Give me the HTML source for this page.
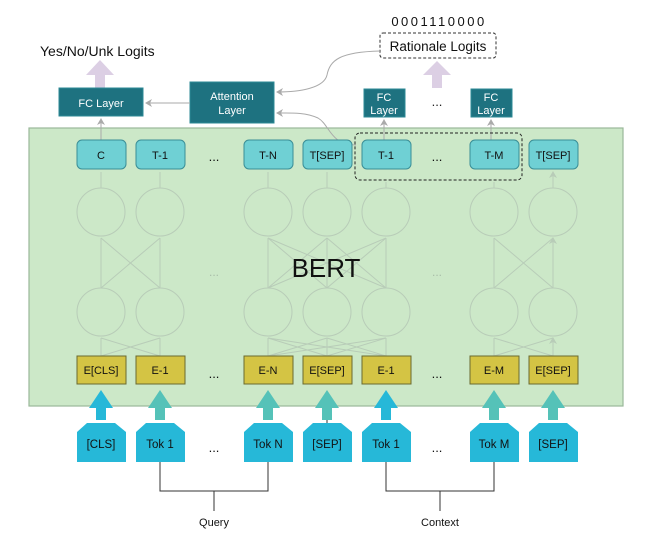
<!DOCTYPE html>
<html><head><meta charset="utf-8"><style>
body{margin:0;background:#fff}
svg{display:block;font-family:"Liberation Sans",sans-serif}
</style></head><body>
<svg width="650" height="535" viewBox="0 0 650 535" xmlns="http://www.w3.org/2000/svg">
<defs>
<marker id="ag" markerWidth="8" markerHeight="8" refX="6" refY="4" orient="auto" markerUnits="userSpaceOnUse"><path d="M0,0 L7,4 L0,8 L2,4 z" fill="#aaa"/></marker>
<marker id="ag2" markerWidth="8" markerHeight="8" refX="6" refY="4" orient="auto" markerUnits="userSpaceOnUse"><path d="M0,0 L7,4 L0,8 L2,4 z" fill="#b8ccb8"/></marker>
</defs>
<!-- top labels -->
<text x="40" y="56" font-size="14" fill="#111">Yes/No/Unk Logits</text>
<text x="439" y="26" font-size="13" fill="#111" text-anchor="middle" letter-spacing="2.5">0001110000</text>
<rect x="380" y="33" width="116" height="25" rx="3" fill="#fff" stroke="#333" stroke-dasharray="3,2"/>
<text x="438" y="51" font-size="13.5" fill="#111" text-anchor="middle">Rationale Logits</text>
<!-- purple arrows -->
<path d="M86,75 L100,60 L114,75 L105,75 L105,88 L95,88 L95,75 z" fill="#dccfe4"/>
<path d="M423,75 L437,61 L451,75 L442,75 L442,88 L432,88 L432,75 z" fill="#dccfe4"/>
<!-- green BERT box -->
<rect x="29" y="128" width="594" height="278" fill="#cce8c8" stroke="#9ab89a" stroke-width="1.2"/>
<!-- FC / Attention -->
<rect x="59" y="88" width="84" height="28" fill="#1e7280" stroke="#2c8a96"/>
<text x="101" y="107" font-size="11" fill="#fff" text-anchor="middle">FC Layer</text>
<rect x="190" y="82" width="84" height="41" fill="#1e7280" stroke="#2c8a96"/>
<text x="232" y="100" font-size="11" fill="#fff" text-anchor="middle">Attention</text>
<text x="232" y="114" font-size="11" fill="#fff" text-anchor="middle">Layer</text>
<rect x="364" y="89" width="41" height="28" fill="#1e7280" stroke="#2c8a96"/>
<text x="384" y="101" font-size="11" fill="#fff" text-anchor="middle">FC</text>
<text x="384" y="114" font-size="11" fill="#fff" text-anchor="middle">Layer</text>
<rect x="471" y="89" width="41" height="28" fill="#1e7280" stroke="#2c8a96"/>
<text x="491" y="101" font-size="11" fill="#fff" text-anchor="middle">FC</text>
<text x="491" y="114" font-size="11" fill="#fff" text-anchor="middle">Layer</text>
<text x="437" y="106" font-size="13" fill="#222" text-anchor="middle">...</text>
<!-- connectors -->
<line x1="190" y1="103" x2="146" y2="103" stroke="#aaa" marker-end="url(#ag)"/>
<line x1="101" y1="140" x2="101" y2="119" stroke="#aaa" marker-end="url(#ag)"/>
<line x1="384" y1="140" x2="384" y2="120" stroke="#aaa" marker-end="url(#ag)"/>
<line x1="491" y1="140" x2="491" y2="120" stroke="#aaa" marker-end="url(#ag)"/>
<path d="M380,51 C340,52 330,60 327,75 C324,88 300,92 277,92" fill="none" stroke="#aaa" marker-end="url(#ag)"/>
<path d="M356,145 C330,145 330,125 318,118 C305,112 290,113 277,113" fill="none" stroke="#aaa" marker-end="url(#ag)"/>
<!-- dashed selection -->
<rect x="355" y="133" width="167" height="47" rx="5" fill="none" stroke="#222" stroke-dasharray="3,2"/>
<g id="net" stroke="#b8ccb8" stroke-width="1" fill="none">
<!-- circles -->
<circle cx="101" cy="212" r="24"/><circle cx="160" cy="212" r="24"/><circle cx="268" cy="212" r="24"/><circle cx="327" cy="212" r="24"/><circle cx="386" cy="212" r="24"/><circle cx="494" cy="212" r="24"/><circle cx="553" cy="212" r="24"/>
<circle cx="101" cy="312" r="24"/><circle cx="160" cy="312" r="24"/><circle cx="268" cy="312" r="24"/><circle cx="327" cy="312" r="24"/><circle cx="386" cy="312" r="24"/><circle cx="494" cy="312" r="24"/><circle cx="553" cy="312" r="24"/>
<!-- vertical arrows -->
<path d="M101,188 V172 M160,188 V172 M268,188 V172 M327,188 V172 M386,188 V182 M494,188 V182 M553,188 V172" marker-end="url(#ag2)"/>
<path d="M101,288 V238 M160,288 V238 M268,288 V238 M327,288 V238 M386,288 V238 M494,288 V238 M553,288 V238" marker-end="url(#ag2)"/>
<path d="M101,356 V338 M160,356 V338 M268,356 V338 M327,356 V338 M386,356 V338 M494,356 V338 M553,356 V338" marker-end="url(#ag2)"/>
<!-- cross lines -->
<path d="M101,288 L160,238 M160,288 L101,238 M268,288 L327,238 M327,288 L268,238 M327,288 L386,238 M386,288 L327,238 M268,288 L386,238 M386,288 L268,238 M494,288 L553,238 M553,288 L494,238"/>
<path d="M101,356 L160,338 M160,356 L101,338 M268,356 L327,338 M327,356 L268,338 M327,356 L386,338 M386,356 L327,338 M268,356 L386,338 M386,356 L268,338 M494,356 L553,338 M553,356 L494,338"/>
</g>
<text x="326" y="277" font-size="26" fill="#111" text-anchor="middle">BERT</text>
<text x="214" y="276" font-size="12" fill="#a8bca8" text-anchor="middle">...</text>
<text x="437" y="276" font-size="12" fill="#a8bca8" text-anchor="middle">...</text>
<!-- T boxes -->
<g font-size="11" fill="#111" text-anchor="middle">
<rect x="77" y="140" width="49" height="29" rx="5" fill="#6fd0d4" stroke="#3a8e96"/><text x="101" y="159">C</text>
<rect x="136" y="140" width="49" height="29" rx="5" fill="#6fd0d4" stroke="#3a8e96"/><text x="160" y="159">T-1</text>
<rect x="244" y="140" width="49" height="29" rx="5" fill="#6fd0d4" stroke="#3a8e96"/><text x="268" y="159">T-N</text>
<rect x="303" y="140" width="49" height="29" rx="5" fill="#6fd0d4" stroke="#3a8e96"/><text x="327" y="159">T[SEP]</text>
<rect x="362" y="140" width="49" height="29" rx="5" fill="#6fd0d4" stroke="#3a8e96"/><text x="386" y="159">T-1</text>
<rect x="470" y="140" width="49" height="29" rx="5" fill="#6fd0d4" stroke="#3a8e96"/><text x="494" y="159">T-M</text>
<rect x="529" y="140" width="49" height="29" rx="5" fill="#6fd0d4" stroke="#3a8e96"/><text x="553" y="159">T[SEP]</text>
<text x="214" y="161" font-size="13">...</text><text x="437" y="161" font-size="13">...</text>
<!-- E boxes -->
<rect x="77" y="356" width="49" height="28" fill="#d4c444" stroke="#6a6a30"/><text x="101" y="374">E[CLS]</text>
<rect x="136" y="356" width="49" height="28" fill="#d4c444" stroke="#6a6a30"/><text x="160" y="374">E-1</text>
<rect x="244" y="356" width="49" height="28" fill="#d4c444" stroke="#6a6a30"/><text x="268" y="374">E-N</text>
<rect x="303" y="356" width="49" height="28" fill="#d4c444" stroke="#6a6a30"/><text x="327" y="374">E[SEP]</text>
<rect x="362" y="356" width="49" height="28" fill="#d4c444" stroke="#6a6a30"/><text x="386" y="374">E-1</text>
<rect x="470" y="356" width="49" height="28" fill="#d4c444" stroke="#6a6a30"/><text x="494" y="374">E-M</text>
<rect x="529" y="356" width="49" height="28" fill="#d4c444" stroke="#6a6a30"/><text x="553" y="374">E[SEP]</text>
<text x="214" y="378" font-size="13">...</text><text x="437" y="378" font-size="13">...</text>
</g>
<!-- input arrows -->
<g>
<path d="M89,408 L101,390 L113,408 L106,408 L106,420 L96,420 L96,408 z" fill="#26b8d8"/>
<path d="M148,408 L160,390 L172,408 L165,408 L165,420 L155,420 L155,408 z" fill="#55c2b8"/>
<path d="M256,408 L268,390 L280,408 L273,408 L273,420 L263,420 L263,408 z" fill="#55c2b8"/>
<path d="M315,408 L327,390 L339,408 L332,408 L332,420 L322,420 L322,408 z" fill="#55c2b8"/>
<path d="M374,408 L386,390 L398,408 L391,408 L391,420 L381,420 L381,408 z" fill="#26b8d8"/>
<path d="M482,408 L494,390 L506,408 L499,408 L499,420 L489,420 L489,408 z" fill="#55c2b8"/>
<path d="M541,408 L553,390 L565,408 L558,408 L558,420 L548,420 L548,408 z" fill="#55c2b8"/>
<line x1="327" y1="420" x2="327" y2="424" stroke="#333"/>
</g>
<!-- token shapes -->
<g fill="#26b8d8" font-size="11.5" text-anchor="middle">
<path d="M87,423 H115 L126,432 V462 H77 V432 z"/>
<path d="M146,423 H174 L185,432 V462 H136 V432 z"/>
<path d="M254,423 H282 L293,432 V462 H244 V432 z"/>
<path d="M313,423 H341 L352,432 V462 H303 V432 z"/>
<path d="M372,423 H400 L411,432 V462 H362 V432 z"/>
<path d="M480,423 H508 L519,432 V462 H470 V432 z"/>
<path d="M539,423 H567 L578,432 V462 H529 V432 z"/>
<g fill="#111"><text x="101" y="448">[CLS]</text><text x="160" y="448">Tok 1</text><text x="268" y="448">Tok N</text><text x="327" y="448">[SEP]</text><text x="386" y="448">Tok 1</text><text x="494" y="448">Tok M</text><text x="553" y="448">[SEP]</text>
<text x="214" y="452" font-size="13">...</text><text x="437" y="452" font-size="13">...</text></g>
</g>
<!-- brackets -->
<path d="M160,462 V491 H268 V462 M214,491 V511" fill="none" stroke="#333"/>
<path d="M386,462 V491 H494 V462 M440,491 V511" fill="none" stroke="#333"/>
<text x="214" y="526" font-size="11" fill="#111" text-anchor="middle">Query</text>
<text x="440" y="526" font-size="11" fill="#111" text-anchor="middle">Context</text>
</svg>
</body></html>
